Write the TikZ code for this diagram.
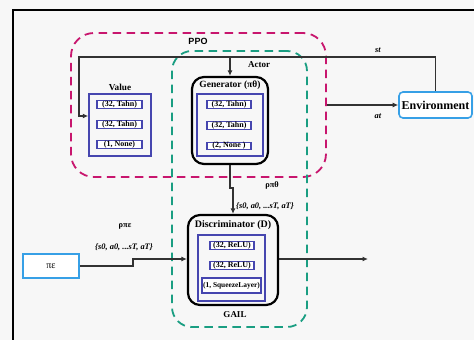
\documentclass[tikz,border=0pt]{standalone}
\usepackage{fontspec}
\setmainfont{Liberation Serif}
\newfontfamily\labelsans{Liberation Sans}
\usetikzlibrary{arrows.meta,calc}

\definecolor{bgcol}{RGB}{247,247,247}
\definecolor{ppocol}{RGB}{200,22,110}
\definecolor{gailcol}{RGB}{26,158,130}
\definecolor{netcol}{RGB}{70,70,175}
\definecolor{iocol}{RGB}{55,160,230}
\definecolor{linecol}{RGB}{50,50,50}

\tikzset{
  group/.style={draw, rectangle, rounded corners=23pt, line width=1.8pt,
    dash pattern=on 8.5pt off 5.5pt, fill=none, inner sep=0pt},
  modelbox/.style={draw=black, rectangle, rounded corners=12pt, line width=2.2pt,
    inner sep=0pt},
  netbox/.style={draw=netcol, rectangle, line width=1.5pt, inner sep=0pt},
  layerbox/.style={draw=netcol, fill=white, rectangle, line width=1.4pt, inner sep=0pt,
    font=\fontsize{8}{8}\selectfont\bfseries},
  iobox/.style={draw=iocol, fill=white, rectangle, line width=1.6pt, inner sep=0pt},
  conn/.style={draw=linecol, line width=1.4pt, -{Latex[length=5.5pt,width=5pt]}},
  title/.style={font=\fontsize{9.5}{11}\selectfont\bfseries, inner sep=0pt},
  flow/.style={font=\fontsize{8.4}{10}\selectfont\bfseries\itshape, inner sep=0pt},
}

\begin{document}
\begin{tikzpicture}[x=1pt,y=-1pt]
  \useasboundingbox (0,0) rectangle (474,340);
  \fill[bgcol] (0,0) rectangle (474,340);

  % outer frame
  \draw[black, line width=1.8pt] (13,345) -- (13,10) -- (480,10);

  % dashed groupings
  \node[group, draw=ppocol, minimum width=255pt, minimum height=144pt] (ppo) at (198.5,105) {};
  \node[group, draw=gailcol, rounded corners=20pt, minimum width=135pt, minimum height=276pt] (gail) at (239.5,189) {};
  \node[font=\labelsans\fontsize{9}{10}\selectfont\bfseries, inner sep=0pt] (ppolbl) at (198,41) {PPO};
  \node[title, font=\fontsize{9}{10}\selectfont\bfseries] (actorlbl) at (259,65) {Actor};
  \node[title, font=\fontsize{9}{10}\selectfont\bfseries] (gaillbl) at (235,315) {GAIL};

  % value network
  \node[netbox, minimum width=62pt, minimum height=62pt] (value) at (120,125) {};
  \node[title, font=\fontsize{9.2}{10}\selectfont\bfseries] (valuelbl) at (120,87) {Value};
  \node[layerbox, minimum width=45pt, minimum height=7.5pt] (v1) at (119.5,104.5) {(32, Tahn)};
  \node[layerbox, minimum width=45pt, minimum height=7.5pt] (v2) at (119.5,124.5) {(32, Tahn)};
  \node[layerbox, minimum width=45pt, minimum height=7.5pt] (v3) at (119.5,144.5) {(1, None)};

  % generator (policy)
  \node[modelbox, minimum width=76pt, minimum height=87pt] (gen) at (230,120.5) {};
  \node[title] (genlbl) at (230,85) {Generator (πθ)};
  \node[netbox, minimum width=66pt, minimum height=62pt] (genin) at (230,125) {};
  \node[layerbox, minimum width=44pt, minimum height=7.5pt] (g1) at (229,104.5) {(32, Tahn)};
  \node[layerbox, minimum width=44pt, minimum height=7.5pt] (g2) at (229,125.5) {(32, Tahn)};
  \node[layerbox, minimum width=44pt, minimum height=7.5pt] (g3) at (229,146) {(2, None )};

  % discriminator
  \node[modelbox, minimum width=90pt, minimum height=90pt] (disc) at (233,260) {};
  \node[title, font=\fontsize{10}{11}\selectfont\bfseries] (disclbl) at (233,225.5) {Discriminator (D)};
  \node[netbox, minimum width=67pt, minimum height=66pt] (discin) at (231.5,268) {};
  \node[layerbox, minimum width=44pt, minimum height=7.5pt] (d1) at (232,245.5) {(32, ReLU)};
  \node[layerbox, minimum width=44pt, minimum height=7.5pt] (d2) at (232,265.5) {(32, ReLU)};
  \node[layerbox, minimum width=59pt, minimum height=15pt,
        font=\fontsize{7.4}{8}\selectfont\bfseries] (d3) at (231.5,285.5) {(1, SqueezeLayer)};

  % environment and expert
  \node[iobox, rounded corners=4pt, minimum width=73pt, minimum height=26pt,
        font=\fontsize{12}{14}\selectfont\bfseries] (env) at (435.5,105) {Environment};
  \node[iobox, minimum width=56pt, minimum height=24pt,
        font=\fontsize{10}{11}\selectfont] (expert) at (51,266) {πε};

  % routing points
  \coordinate (stL) at (79,57);
  \coordinate (vin) at (79,116);
  \coordinate (jog) at (230,188);
  \coordinate (kink) at (133,259);
  \coordinate (outend) at (368,259);

  % state feedback to value and generator
  \draw[conn] (env.north) |- (stL) -- (vin) -- (vin -| value.west);
  \draw[conn] (gen.north |- stL) -- (gen.north);
  % action to environment
  \draw[conn] (env.west -| ppo.east) -- (env.west);
  % generated trajectories to discriminator
  \draw[conn] (gen.south) -- (jog) -- (jog -| disc.north) -- (disc.north);
  % expert trajectories to discriminator
  \draw[conn] (expert.east) -| (kink) -- (kink -| disc.west);
  % discriminator output
  \draw[conn] (disc.east |- outend) -- (outend);

  % flow labels
  \node[flow] (stlbl) at (378,50) {st};
  \node[flow] (atlbl) at (378,116) {at};
  \node[title, font=\fontsize{8.4}{10}\selectfont\bfseries] (rhogen) at (272,185) {ρπθ};
  \node[flow, anchor=west] (gentraj) at (236,206) {\{s0, a0, ...sT, aT\}};
  \node[title, font=\fontsize{8.4}{10}\selectfont\bfseries] (rhoexp) at (125,226) {ρπε};
  \node[flow] (exptraj) at (124,247) {\{s0, a0, ...sT, aT\}};
\end{tikzpicture}
\end{document}
